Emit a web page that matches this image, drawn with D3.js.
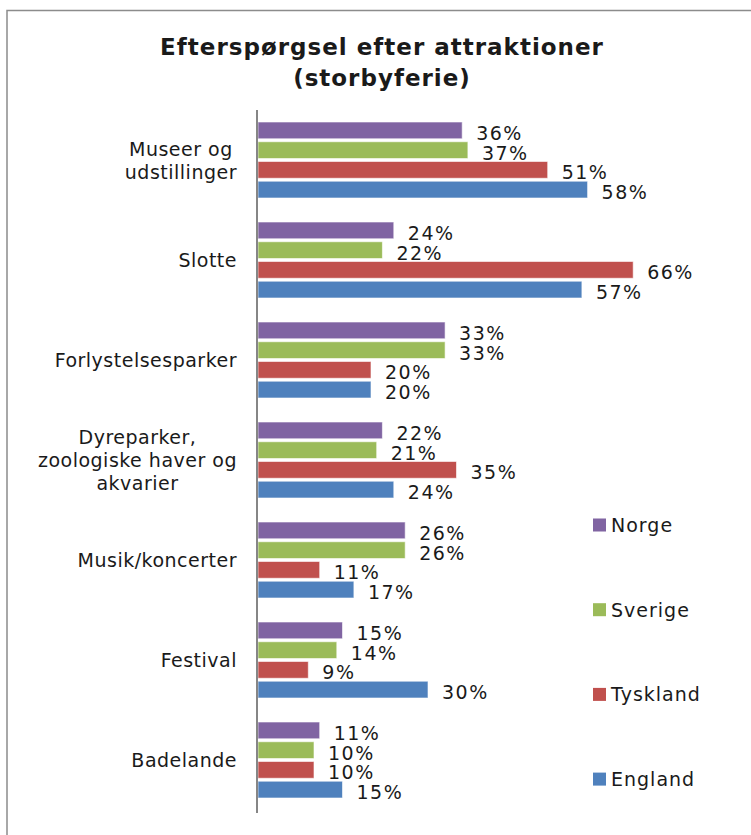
<!DOCTYPE html>
<meta charset="utf-8">
<style>
    body { margin: 0; background: #fff; }
    text { font-family: "DejaVu Sans", Verdana, sans-serif; fill: #1a1a1a; }
    .title { font-weight: bold; font-size: 23px; letter-spacing: 1px; text-anchor: middle; }
    .cat { font-size: 19px; letter-spacing: 0.5px; }
    .val { font-size: 19px; letter-spacing: 1.5px; }
    .leg { font-size: 19px; letter-spacing: 1px; }
</style>
<svg width="751" height="835"></svg>
<script src="https://d3js.org/d3.v7.min.js"></script>
<script>
    var categories = ["Museer og\nudstillinger", "Slotte", "Forlystelsesparker",
        "Dyreparker,\nzoologiske haver og\nakvarier", "Musik/koncerter", "Festival", "Badelande"];
    var seriesNames = ["Norge", "Sverige", "Tyskland", "England"];
    var norge    = [36, 24, 33, 22, 26, 15, 11];
    var sverige  = [37, 22, 33, 21, 26, 14, 10];
    var tyskland = [51, 66, 20, 35, 11,  9, 10];
    var england  = [58, 57, 20, 24, 17, 30, 15];

    var colors = {
        Norge: "#8064a2",
        Sverige: "#9bbb59",
        Tyskland: "#c0504d",
        England: "#4f81bd"
    };

    var seriesValues = { Norge: norge, Sverige: sverige, Tyskland: tyskland, England: england };

    var svg = d3.select("svg");

    // frame (only top and left visible)
    svg.append("path")
        .attr("d", "M7,835 L7,10.5 L751,10.5")
        .attr("fill", "none")
        .attr("stroke", "#8c8c8c")
        .attr("stroke-width", 1.5);

    svg.append("text").attr("class", "title").attr("x", 382).attr("y", 55).text("Efterspørgsel efter attraktioner");
    svg.append("text").attr("class", "title").attr("x", 382).attr("y", 86).text("(storbyferie)");

    var x = d3.scaleLinear().domain([0, 100]).range([257, 827]);
    var y = d3.scaleBand().domain(categories).range([110, 810]);
    var yInner = d3.scaleBand().domain(seriesNames).range([12, 88]).paddingInner(0.15);

    var group = svg.selectAll(".grp")
        .data(categories)
        .enter().append("g")
        .attr("class", "grp")
        .attr("transform", function(d) { return "translate(0," + y(d) + ")"; });

    group.selectAll("rect")
        .data(function(d, i) { return seriesNames.map(function(s) { return {s: s, v: seriesValues[s][i]}; }); })
        .enter().append("rect")
        .attr("x", x(0) + 1)
        .attr("y", function(d) { return yInner(d.s); })
        .attr("width", function(d) { return x(d.v) - x(0) - 1; })
        .attr("height", yInner.bandwidth())
        .attr("fill", function(d) { return colors[d.s]; })
        .attr("stroke", "#fff")
        .attr("stroke-opacity", 0.6)
        .attr("stroke-width", 1);

    group.selectAll(".val")
        .data(function(d, i) { return seriesNames.map(function(s) { return {s: s, v: seriesValues[s][i]}; }); })
        .enter().append("text")
        .attr("class", "val")
        .attr("x", function(d) { return x(d.v) + 14; })
        .attr("y", function(d) { return yInner(d.s) + yInner.bandwidth() + 1; })
        .text(function(d) { return d.v + "%"; });

    // category labels: lines centred among themselves, block right-aligned
    var lineH = 23;
    group.each(function(d) {
        var lines = d.split("\n");
        var g = d3.select(this);
        var t = g.append("text").attr("class", "cat").attr("text-anchor", "middle");
        var tmp = lines.map(function(l) {
            var m = g.append("text").attr("class", "cat").text(l);
            var w = m.node().getComputedTextLength();
            m.remove();
            return w;
        });
        var maxW = d3.max(tmp);
        var cx = 237 - maxW / 2;
        var y0 = y.bandwidth() / 2 + 7 - (lines.length - 1) * lineH / 2;
        lines.forEach(function(l, i) {
            t.append("tspan").attr("x", cx).attr("y", y0 + i * lineH).text(l);
        });
    });

    // axis line
    svg.append("line")
        .attr("x1", x(0)).attr("x2", x(0))
        .attr("y1", 110).attr("y2", 813)
        .attr("stroke", "#868686")
        .attr("stroke-width", 2);

    // legend
    var legend = svg.selectAll(".legItem")
        .data(seriesNames)
        .enter().append("g")
        .attr("class", "legItem")
        .attr("transform", function(d, i) { return "translate(593," + (525 + i * 84.7) + ")"; });

    legend.append("rect")
        .attr("x", 0).attr("y", -6.5)
        .attr("width", 13).attr("height", 13)
        .attr("fill", function(d) { return colors[d]; });

    legend.append("text")
        .attr("class", "leg")
        .attr("x", 18).attr("y", 7)
        .text(function(d) { return d; });
</script>
